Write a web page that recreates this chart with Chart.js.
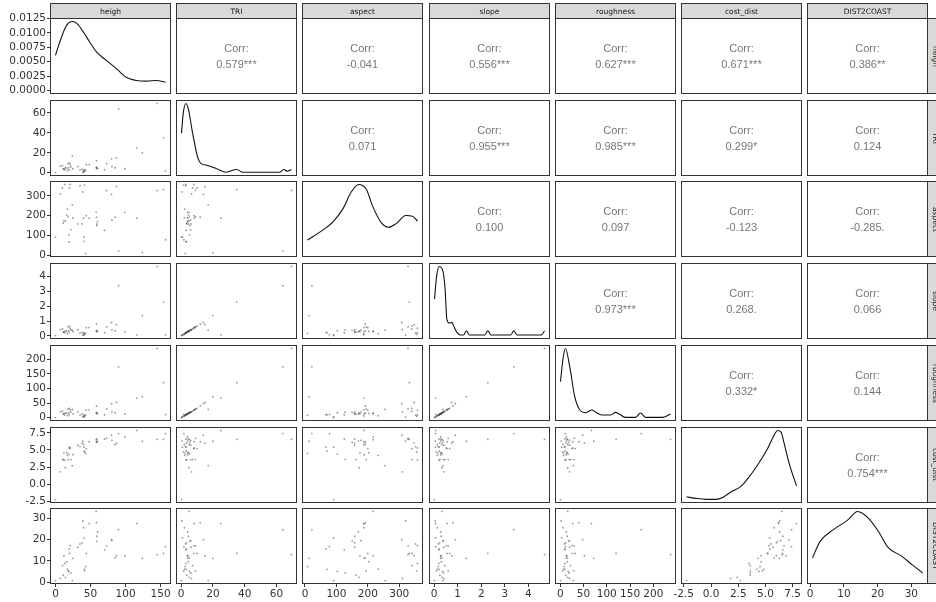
<!DOCTYPE html>
<html>
<head>
<meta charset="utf-8">
<title>ggpairs</title>
<script src="https://cdn.jsdelivr.net/npm/chart.js@4.4.1/dist/chart.umd.min.js"></script>
<style>
    body { margin: 0; background: #fff; width: 936px; height: 602px; overflow: hidden; position: relative; }
    canvas { position: absolute; }
    .tira { position: absolute; background: #d9d9d9; border: 1px solid #333; box-sizing: border-box;
            font-family: "DejaVu Sans"; font-size: 7.5px; color: #1a1a1a;
            display: flex; align-items: center; justify-content: center; overflow: hidden; }
    .tira.der { writing-mode: vertical-rl; }
    .corr { position: absolute; text-align: center; font-family: "Liberation Sans"; font-size: 11px;
            color: #777; line-height: 16px; }
</style>
</head>
<body>
<script>
// DATOS
const variables = ['heigh', 'TRI', 'aspect', 'slope', 'roughness', 'cost_dist', 'DIST2COAST'];

const heigh = [0, 7, 10, 11, 12, 13, 14, 16, 17, 18, 19, 19.5, 20, 21, 22, 24, 25, 32, 35, 38, 39, 40, 40.5,
    41, 41.5, 43, 44, 48, 58, 58.5, 59, 59, 60, 70, 73, 80, 80.5, 85, 87, 90, 99, 116, 124, 145, 154, 157];
const TRI = [0.2, 6.5, 7.2, 3.5, 4.2, 3.0, 5.0, 4.6, 2.2, 9.0, 5.2, 3.1, 10, 8.2, 6.0, 17, 4.0, 6.1, 2.8, 3.5, 0.5, 2.0, 0.8,
    3.2, 1.5, 2.5, 8.0, 8.2, 5.0, 12, 4.5, 5.5, 4.0, 3.0, 9.0, 14, 6.0, 5.0, 15, 64, 4.0, 25, 20, 69.5, 35, 1.7];
const aspect = [91, 310, 340, 162, 175, 358, 172, 203, 233, 195, 103, 67, 340, 358, 128, 255, 188, 158, 352, 158, 320, 187, 91,
    70, 355, 8, 200, 187, 217, 192, 158, 150, 170, 125, 328, 308, 178, 192, 347, 22, 217, 187, 13, 328, 332, 78];
const slope = [0.02, 0.42, 0.46, 0.25, 0.29, 0.21, 0.33, 0.31, 0.14, 0.60, 0.35, 0.22, 0.66, 0.52, 0.40, 0.38, 0.28, 0.41, 0.18, 0.24, 0.05, 0.14, 0.06,
    0.22, 0.10, 0.17, 0.55, 0.56, 0.33, 0.80, 0.30, 0.37, 0.28, 0.21, 0.60, 0.90, 0.40, 0.33, 0.75, 3.38, 0.28, 0.07, 1.37, 4.68, 2.28, 0.07];
const roughness = [0.5, 20, 22, 12, 14, 10, 16, 15, 7, 29, 17, 10, 32, 26, 19, 28, 13, 20, 9, 12, 2, 6, 3,
    10, 5, 8, 26, 27, 16, 40, 15, 18, 13, 10, 30, 48, 20, 16, 52, 174, 13, 67, 72, 237, 120, 11];
const cost_dist = [-2.25, 1.8, 3.6, 3.6, 4.6, 3.5, 2.4, 4.6, 4.2, 3.6, 4.4, 5.4, 5.2, 5.3, 3.6, 2.7, 4.3, 5.7, 5.5, 6.0, 6.3, 5.8, 5.4,
    4.85, 4.7, 4.5, 5.2, 6.2, 6.5, 6.2, 6.6, 6.1, 6.3, 6.6, 6.7, 7.15, 6.4, 5.8, 6.0, 7.4, 6.9, 7.85, 6.27, 6.56, 6.56, 7.39];
const DIST2COAST = [0.7, 1.7, 7.7, 3.2, 12.4, 8.8, 2.2, 9.6, 6.1, 5.3, 5.0, 15.6, 13.5, 17.2, 4.3, 0.7, 11.2, 16.4, 18.0, 18.5, 28.8, 25.6, 20.8,
    6.0, 5.3, 7.3, 13.5, 27.6, 33.3, 28.0, 21.6, 19.2, 23.6, 15.2, 17.1, 20.0, 19.5, 11.4, 12.4, 24.7, 12.4, 27.6, 11.2, 12.9, 13.5, 16.7];

// curvas de densidad (diagonal); heigh en unidades reales, el resto relativo al maximo
const densHeighX = [0, 6.1, 13.3, 20.4, 25.2, 32.3, 39.5, 49, 58.5, 72.8, 87, 101, 115.7, 130, 144, 157];
const densHeighY = [0.0061, 0.0084, 0.01075, 0.0119, 0.0120, 0.01145, 0.0102, 0.0084, 0.0067, 0.0052, 0.0038, 0.0023, 0.00174, 0.00164, 0.00174, 0.00146];
const densTRIX = [0.2, 1.3, 3, 4.6, 7.2, 10.3, 12.5, 15.6, 22, 28.3, 35, 38.8, 62, 64.6, 66.7, 69.5];
const densTRIY = [0.57, 0.86, 1.0, 0.91, 0.57, 0.23, 0.13, 0.11, 0.06, 0.004, 0.045, 0.004, 0.004, 0.045, 0.02, 0.045];
const densAspectX = [8, 47, 89, 121, 147, 171, 195, 215, 242, 266, 289, 321, 342, 358];
const densAspectY = [0.195, 0.31, 0.46, 0.65, 0.89, 1.0, 0.93, 0.69, 0.45, 0.38, 0.43, 0.55, 0.54, 0.47];
const densSlopeX = [0.02, 0.11, 0.22, 0.37, 0.47, 0.54, 0.65, 0.76, 0.83, 0.97, 1.11, 1.25, 1.37, 1.5, 2.15, 2.28, 2.42, 3.25, 3.38, 3.52, 4.55, 4.68];
const densSlopeY = [0.53, 0.86, 1.0, 0.94, 0.67, 0.24, 0.18, 0.19, 0.14, 0.046, 0.007, 0.007, 0.07, 0.007, 0.007, 0.07, 0.007, 0.007, 0.07, 0.007, 0.007, 0.07];
const densRoughX = [0.5, 5.6, 11, 21.3, 30.5, 41, 55, 68, 79, 91, 109, 118.7, 127, 140, 162, 172.5, 183, 219, 237];
const densRoughY = [0.52, 0.84, 1.0, 0.7, 0.32, 0.12, 0.07, 0.11, 0.065, 0.036, 0.036, 0.075, 0.05, 0.003, 0.003, 0.065, 0.003, 0.003, 0.05];
const densCostX = [-2.25, -1.38, -0.46, 0.46, 1.07, 1.83, 2.75, 3.51, 4.28, 5.2, 5.72, 6.12, 6.42, 6.72, 7.18, 7.85];
const densCostY = [0.04, 0.017, 0.003, 0.003, 0.03, 0.11, 0.19, 0.33, 0.5, 0.74, 0.91, 1.0, 0.98, 0.81, 0.52, 0.2];
const densDistX = [0.7, 3.0, 7.0, 11.0, 14.1, 17.1, 20.1, 23.1, 27.2, 30.2, 33.3];
const densDistY = [0.33, 0.57, 0.74, 0.87, 1.0, 0.91, 0.72, 0.48, 0.35, 0.23, 0.11];

// marcas de los ejes
const ticksDensidad = [0, 0.0025, 0.005, 0.0075, 0.01, 0.0125];
const ticksHeigh = [0, 50, 100, 150];
const ticksTRI = [0, 20, 40, 60];
const ticksAspect = [0, 100, 200, 300];
const ticksSlope = [0, 1, 2, 3, 4];
const ticksRough = [0, 50, 100, 150, 200];
const ticksCost = [-2.5, 0, 2.5, 5, 7.5];
const ticksDist = [0, 10, 20, 30];

// correlaciones (triangulo superior, por filas)
const correlaciones = [
    ['0.579***', '-0.041', '0.556***', '0.627***', '0.671***', '0.386**'],
    ['0.071', '0.955***', '0.985***', '0.299*', '0.124'],
    ['0.100', '0.097', '-0.123', '-0.285.'],
    ['0.973***', '0.268.', '0.066'],
    ['0.332*', '0.144'],
    ['0.754***']
];

const datos = [heigh, TRI, aspect, slope, roughness, cost_dist, DIST2COAST];
const densX = [densHeighX, densTRIX, densAspectX, densSlopeX, densRoughX, densCostX, densDistX];
const densY = [densHeighY, densTRIY, densAspectY, densSlopeY, densRoughY, densCostY, densDistY];
const marcas = [ticksHeigh, ticksTRI, ticksAspect, ticksSlope, ticksRough, ticksCost, ticksDist];
const decimales = [0, 0, 0, 0, 0, 1, 0];

// LAYOUT
const X0 = 50, PASO_X = 126.2, ANCHO = 121;
const Y0 = 18, PASO_Y = 81.7, ALTO = 76;
const M = 8;
const ALTO_EJE_X = 602 - (Math.round(Y0 + 6 * PASO_Y) + ALTO);

function rango(arr) {
    const mn = Math.min(...arr), mx = Math.max(...arr);
    const e = (mx - mn) * 0.05;
    return [mn - e, mx + e];
}

const marco = {
    id: 'marco',
    afterDraw(chart) {
        const a = chart.chartArea, ctx = chart.ctx;
        ctx.save();
        ctx.strokeStyle = '#333';
        ctx.lineWidth = 1;
        ctx.strokeRect(a.left + 0.5, a.top + 0.5, a.right - a.left - 1, a.bottom - a.top - 1);
        ctx.restore();
    }
};

function escala(lim, visible, valores, dec, eje) {
    return {
        type: 'linear', min: lim[0], max: lim[1], display: visible,
        grid: { display: true, drawOnChartArea: false, drawTicks: true, tickLength: 3, color: '#333' },
        border: { display: false },
        ticks: {
            padding: 1, color: '#333', autoSkip: false, maxRotation: 0,
            font: { family: 'DejaVu Sans', size: 10.5 },
            callback: v => Number(v).toFixed(dec)
        },
        afterBuildTicks: s => { s.ticks = valores.map(v => ({ value: v })); },
        afterFit: s => {
            if (!s.options.display) return;
            if (eje === 'y') s.width = X0; else s.height = ALTO_EJE_X;
            s.paddingTop = 0; s.paddingBottom = 0; s.paddingLeft = 0; s.paddingRight = 0;
        }
    };
}

function crearPanel(r, c) {
    const px = Math.round(X0 + c * PASO_X), py = Math.round(Y0 + r * PASO_Y);
    const izq = c === 0 ? X0 : M;
    const abajo = r === 6 ? ALTO_EJE_X : M;

    const canvas = document.createElement('canvas');
    canvas.width = ANCHO + izq + M;
    canvas.height = ALTO + M + abajo;
    canvas.style.left = (px - izq) + 'px';
    canvas.style.top = (py - M) + 'px';
    document.body.appendChild(canvas);

    let datasets = [];
    let limY = rango(datos[r]);
    let ticksY = marcas[r], decY = decimales[r];

    if (r === c) {
        // densidad
        const maxD = Math.max(...densY[r]);
        limY = [-0.05 * maxD, 1.05 * maxD];
        datasets.push({
            data: densX[r].map((x, i) => ({ x: x, y: densY[r][i] })),
            showLine: true, pointRadius: 0, borderColor: '#111', borderWidth: 1.1,
            tension: 0.4, cubicInterpolationMode: 'monotone'
        });
    } else if (r > c) {
        // dispersion
        datasets.push({
            data: datos[c].map((x, i) => ({ x: x, y: datos[r][i] })),
            pointRadius: 0.9, pointBorderWidth: 0, pointBackgroundColor: 'rgba(70,70,70,0.55)'
        });
    }
    if (r === 0) { ticksY = ticksDensidad; decY = 4; limY = [-0.05 * 0.012, 1.05 * 0.012]; }

    new Chart(canvas, {
        type: 'scatter',
        data: { datasets: datasets },
        options: {
            responsive: false, animation: false, events: [],
            layout: { padding: { left: c === 0 ? 0 : M, right: M, top: M, bottom: r === 6 ? 0 : M } },
            plugins: { legend: { display: false }, tooltip: { enabled: false } },
            scales: {
                x: escala(rango(datos[c]), r === 6, marcas[c], decimales[c], 'x'),
                y: escala(limY, c === 0, ticksY, decY, 'y')
            }
        },
        plugins: [marco]
    });

    if (r < c) {
        const d = document.createElement('div');
        d.className = 'corr';
        d.style.left = px + 'px';
        d.style.width = ANCHO + 'px';
        d.style.top = (py + ALTO / 2 - 16) + 'px';
        d.innerHTML = 'Corr:<br>' + correlaciones[r][c - r - 1];
        document.body.appendChild(d);
    }
}

for (let r = 0; r < 7; r++) {
    for (let c = 0; c < 7; c++) {
        crearPanel(r, c);
    }
}

// tiras con los nombres
variables.forEach((nombre, i) => {
    const arriba = document.createElement('div');
    arriba.className = 'tira';
    arriba.style.left = Math.round(X0 + i * PASO_X) + 'px';
    arriba.style.top = '3px';
    arriba.style.width = ANCHO + 'px';
    arriba.style.height = '16px';
    arriba.textContent = nombre;
    document.body.appendChild(arriba);

    const der = document.createElement('div');
    der.className = 'tira der';
    der.style.left = (Math.round(X0 + 6 * PASO_X) + ANCHO - 1) + 'px';
    der.style.top = Math.round(Y0 + i * PASO_Y) + 'px';
    der.style.width = '16px';
    der.style.height = ALTO + 'px';
    der.textContent = nombre;
    document.body.appendChild(der);
});
</script>
</body>
</html>
